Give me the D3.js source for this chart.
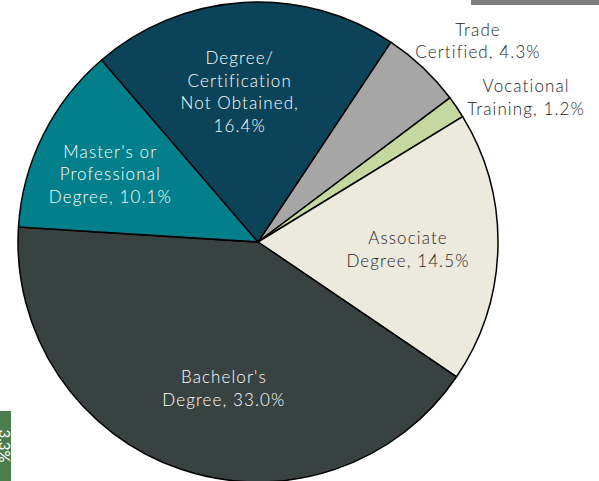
<!DOCTYPE html>
<html>
<head>
<meta charset="utf-8">
<script src="https://cdn.jsdelivr.net/npm/d3@7"></script>
<style>
  body { margin: 0; background: #fff; }
  svg { display: block; font-family: "Lato", "Noto Sans", sans-serif; }
</style>
</head>
<body>
<div id="chart"></div>
<script>
var svgWidth = 599;
var svgHeight = 481;

// data, clockwise from the Trade slice
var categories = ["Trade Certified", "Vocational Training", "Associate Degree",
  "Bachelor's Degree", "Master's or Professional Degree", "Degree/ Certification Not Obtained"];
var values = [4.3, 1.2, 14.5, 33.0, 10.1, 16.4];
var labelLines = [
  ["Trade", "Certified, 4.3%"],
  ["Vocational", "Training, 1.2%"],
  ["Associate", "Degree, 14.5%"],
  ["Bachelor's", "Degree, 33.0%"],
  ["Master's or", "Professional", "Degree, 10.1%"],
  ["Degree/", "Certification", "Not Obtained,", "16.4%"]
];

var colors = ["#a6a6a6", "#c4d89f", "#ece9dd", "#384240", "#01808b", "#0b4458"];
var textColors = ["#262626", "#262626", "#262626", "#ffffff", "#ffffff", "#ffffff"];

// label placement: radius of the centroid arc plus a small nudge
var labelPos = [
  { r: 290, dx: 21, dy: 10 },
  { r: 300, dx: 20, dy: 24 },
  { r: 150, dx: 0, dy: 4 },
  { r: 155, dx: 16, dy: 0 },
  { r: 165, dx: 0, dy: 6 },
  { r: 150, dx: -9, dy: 0 }
];

var cx = 258, cy = 242, radius = 240;

var svg = d3.select("#chart")
  .append("svg")
  .attr("width", svgWidth)
  .attr("height", svgHeight);

// decorations cropped at the edges of the slide
svg.append("rect")
  .attr("x", 471).attr("y", 0)
  .attr("width", svgWidth - 471).attr("height", 5)
  .attr("fill", "#7f7f7f");

svg.append("rect")
  .attr("x", 0).attr("y", 411)
  .attr("width", 11).attr("height", svgHeight - 411)
  .attr("fill", "#4b7e4f");

svg.append("text")
  .attr("transform", "translate(0, 446) rotate(90)")
  .attr("text-anchor", "middle")
  .attr("dy", "0.1em")
  .attr("fill", "#ffffff")
  .style("font-size", "15px")
  .text("3.3%");

var startAngle = 33.6 * Math.PI / 180;

var pie = d3.pie()
  .sort(null)
  .value(d => d)
  .startAngle(startAngle)
  .endAngle(startAngle + 2 * Math.PI);

var arc = d3.arc()
  .innerRadius(0)
  .outerRadius(radius);

var arcs = pie(values);

var chartGroup = svg.append("g")
  .attr("transform", `translate(${cx}, ${cy})`);

chartGroup.selectAll("path")
  .data(arcs)
  .enter()
  .append("path")
  .attr("d", arc)
  .attr("fill", (d, i) => colors[i])
  .attr("stroke", "#000")
  .attr("stroke-width", 1.5)
  .attr("stroke-linejoin", "round");

// labels
var lineHeight = 22.5;
var labels = chartGroup.selectAll("text.lbl")
  .data(arcs)
  .enter()
  .append("text")
  .attr("class", "lbl")
  .attr("text-anchor", "middle")
  .attr("fill", (d, i) => textColors[i])
  .style("font-size", "17px")
  .style("font-weight", 300)
  .style("letter-spacing", "1.1px")
  .attr("transform", function(d, i) {
    var p = labelPos[i];
    var c = d3.arc().innerRadius(p.r).outerRadius(p.r).centroid(d);
    return `translate(${c[0] + p.dx}, ${c[1] + p.dy})`;
  });

labels.each(function(d, i) {
  var lines = labelLines[i];
  var t = d3.select(this);
  var top = -(lines.length - 1) * lineHeight / 2;
  lines.forEach(function(line, k) {
    t.append("tspan")
      .attr("x", 0)
      .attr("y", top + k * lineHeight)
      .attr("dy", "0.35em")
      .text(line);
  });
});
</script>
</body>
</html>
